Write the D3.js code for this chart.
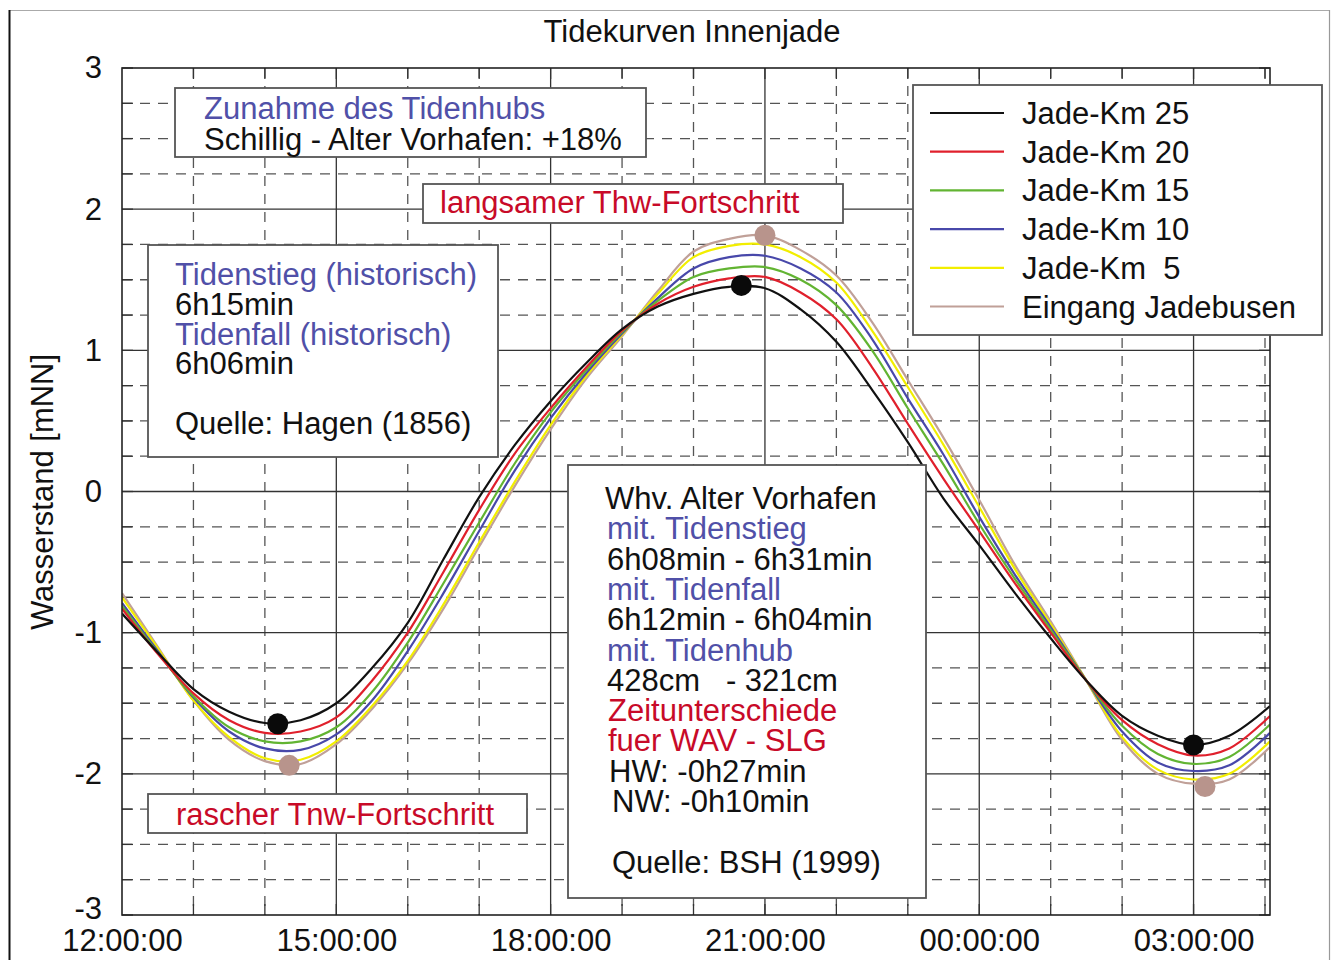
<!DOCTYPE html>
<html>
<head>
<meta charset="utf-8">
<script src="https://cdn.jsdelivr.net/npm/d3@7"></script>
<style>
  html, body { margin: 0; padding: 0; background: #fff; }
  svg { display: block; }
  text { font-family: "Liberation Sans", Arial, Helvetica, sans-serif; white-space: pre; }
</style>
</head>
<body>
<svg id="chart" width="1335" height="960"></svg>
<script>
// ---------- data ----------
const title = "Tidekurven Innenjade";
const yLabel = "Wasserstand [mNN]";
// time in hours (24+ = after midnight)
const times = [12,12.5,13,13.5,14,14.5,15,15.5,16,16.5,17,17.5,18,18.5,19,19.5,20,20.5,21,21.5,22,22.5,23,23.5,24,24.5,25,25.5,26,26.5,27,27.5,28.07];
const seriesNames = ["Jade-Km 25","Jade-Km 20","Jade-Km 15","Jade-Km 10","Jade-Km  5","Eingang Jadebusen"];
const seriesColors = ["#111111","#e0202c","#62b432","#4848aa","#f2ee00","#c0a098"];
const km25 = [-0.865,-1.14,-1.40,-1.56,-1.64,-1.62,-1.50,-1.25,-0.93,-0.48,-0.04,0.33,0.64,0.91,1.15,1.31,1.40,1.45,1.44,1.29,1.06,0.72,0.35,-0.05,-0.38,-0.72,-1.04,-1.34,-1.59,-1.73,-1.795,-1.73,-1.52];
const km20 = [-0.83,-1.15,-1.43,-1.62,-1.71,-1.70,-1.60,-1.34,-1.00,-0.57,-0.13,0.27,0.59,0.88,1.14,1.33,1.45,1.51,1.52,1.41,1.22,0.88,0.48,0.09,-0.28,-0.65,-1.00,-1.34,-1.62,-1.79,-1.87,-1.82,-1.59];
const km15 = [-0.81,-1.14,-1.45,-1.67,-1.77,-1.77,-1.67,-1.42,-1.07,-0.65,-0.22,0.20,0.56,0.86,1.13,1.35,1.52,1.58,1.59,1.50,1.32,1.00,0.59,0.19,-0.23,-0.62,-0.98,-1.34,-1.66,-1.86,-1.93,-1.88,-1.65];
const km10 = [-0.79,-1.13,-1.46,-1.70,-1.82,-1.83,-1.72,-1.48,-1.13,-0.72,-0.28,0.15,0.52,0.84,1.12,1.37,1.58,1.66,1.67,1.58,1.41,1.08,0.66,0.26,-0.18,-0.59,-0.96,-1.34,-1.70,-1.92,-1.98,-1.94,-1.71];
const km5  = [-0.75,-1.11,-1.48,-1.74,-1.89,-1.90,-1.77,-1.52,-1.20,-0.80,-0.36,0.07,0.47,0.82,1.11,1.40,1.66,1.74,1.75,1.66,1.48,1.14,0.74,0.33,-0.11,-0.55,-0.94,-1.34,-1.74,-1.97,-2.04,-2.00,-1.77];
const jadebusen = [-0.72,-1.10,-1.48,-1.76,-1.91,-1.93,-1.79,-1.54,-1.22,-0.83,-0.39,0.04,0.44,0.80,1.10,1.42,1.70,1.79,1.815,1.71,1.53,1.20,0.79,0.38,-0.06,-0.52,-0.92,-1.34,-1.76,-2.00,-2.07,-2.04,-1.81];
const seriesValues = [km25, km20, km15, km10, km5, jadebusen];
// extreme markers (Thw / Tnw)
const markerTimesKm25 = [14.18, 20.67, 27.0];
const markerValuesKm25 = [-1.645, 1.46, -1.795];
const markerTimesJadebusen = [14.34, 21.0, 27.16];
const markerValuesJadebusen = [-1.94, 1.815, -2.09];
// axes
const xTickValues = [12, 15, 18, 21, 24, 27];
const xTickLabels = ["12:00:00","15:00:00","18:00:00","21:00:00","00:00:00","03:00:00"];
const yTickValues = [-3,-2,-1,0,1,2,3];
// annotation texts
const boxHub = [["Zunahme des Tidenhubs","blue"],["Schillig - Alter Vorhafen: +18%","black"]];
const boxThw = [["langsamer Thw-Fortschritt","red"]];
const boxHist = [["Tidenstieg (historisch)","blue"],["6h15min","black"],["Tidenfall (historisch)","blue"],["6h06min","black"],["",""],["Quelle: Hagen (1856)","black"]];
const boxTnw = [["rascher Tnw-Fortschritt","red"]];
const boxWhv = [["Whv. Alter Vorhafen","black",0],["mit. Tidenstieg","blue",2],["6h08min - 6h31min","black",2],["mit. Tidenfall","blue",2],["6h12min - 6h04min","black",2],["mit. Tidenhub","blue",2],["428cm   - 321cm","black",2],["Zeitunterschiede","red",3],["fuer WAV - SLG","red",3],["HW: -0h27min","black",4],["NW: -0h10min","black",7],["",""],["Quelle: BSH (1999)","black",7]];

// ---------- drawing ----------
const textColor = {black:"#111111", blue:"#5050a8", red:"#c80a28"};
const FS = 31;
const svg = d3.select("#chart");
const L = 122, R = 1270, T = 68, B = 915;
const x = d3.scaleLinear().domain([12, 28.07]).range([L, R]);
const y = d3.scaleLinear().domain([-3, 3]).range([B, T]);

// outer page frame
svg.append("line").attr("x1",9).attr("x2",1330).attr("y1",10.5).attr("y2",10.5).attr("stroke","#aaa").attr("stroke-width",1.2);
svg.append("line").attr("x1",1329.5).attr("x2",1329.5).attr("y1",10).attr("y2",960).attr("stroke","#999").attr("stroke-width",1.2);
svg.append("line").attr("x1",9.5).attr("x2",9.5).attr("y1",10).attr("y2",960).attr("stroke","#111").attr("stroke-width",2);

// grid
const g = svg.append("g");
const minorX = d3.range(12, 28.01, 1).filter(h => !xTickValues.includes(h) && h !== 12);
const minorY = d3.range(-3, 3.001, 0.25).filter(v => Math.abs(v - Math.round(v)) > 1e-6);
g.selectAll(".mx").data(minorX).join("line")
  .attr("x1", d => x(d)).attr("x2", d => x(d)).attr("y1", T).attr("y2", B)
  .attr("stroke", "#555").attr("stroke-width", 1.3).attr("stroke-dasharray", "10,8");
g.selectAll(".my").data(minorY).join("line")
  .attr("x1", L).attr("x2", R).attr("y1", d => y(d)).attr("y2", d => y(d))
  .attr("stroke", "#555").attr("stroke-width", 1.3).attr("stroke-dasharray", "10,8");
g.selectAll(".Mx").data(xTickValues.slice(1)).join("line")
  .attr("x1", d => x(d)).attr("x2", d => x(d)).attr("y1", T).attr("y2", B)
  .attr("stroke", "#333").attr("stroke-width", 1.3);
g.selectAll(".My").data(yTickValues.slice(1, -1)).join("line")
  .attr("x1", L).attr("x2", R).attr("y1", d => y(d)).attr("y2", d => y(d))
  .attr("stroke", "#333").attr("stroke-width", 1.3);
// inner ticks on frame
const tk = 11;
[T, B].forEach(edge => {
  g.selectAll(null).data(minorX.concat(xTickValues.slice(1))).join("line")
    .attr("x1", d => x(d)).attr("x2", d => x(d))
    .attr("y1", edge).attr("y2", edge === T ? T + tk : B - tk)
    .attr("stroke", "#333").attr("stroke-width", 1.3);
});
[L, R].forEach(edge => {
  g.selectAll(null).data(minorY.concat(yTickValues)).join("line")
    .attr("y1", d => y(d)).attr("y2", d => y(d))
    .attr("x1", edge).attr("x2", edge === L ? L + tk : R - tk)
    .attr("stroke", "#333").attr("stroke-width", 1.3);
});

// axes labels through d3 axes
const xAxis = d3.axisBottom(x).tickValues(xTickValues).tickFormat((d, i) => xTickLabels[i]).tickSize(0).tickPadding(14);
const xa = svg.append("g").attr("transform", `translate(0,${B})`).call(xAxis);
xa.select(".domain").remove();
xa.selectAll("text").attr("font-size", FS).attr("fill", "#111").attr("font-family", "Liberation Sans, Arial, sans-serif");
const yAxis = d3.axisLeft(y).tickValues(yTickValues).tickFormat(d3.format("d")).tickSize(0).tickPadding(20);
const ya = svg.append("g").attr("transform", `translate(${L},0)`).call(yAxis);
ya.select(".domain").remove();
ya.selectAll("text").attr("font-size", FS).attr("fill", "#111").attr("font-family", "Liberation Sans, Arial, sans-serif")
  .text(d => d < 0 ? "-" + Math.abs(d) : d)
  .attr("dy", d => d === -3 ? "0.1em" : "0.32em");

// curves
svg.append("clipPath").attr("id", "clip").append("rect").attr("x", L).attr("y", T).attr("width", R - L).attr("height", B - T);
const line = d3.line().x(d => x(d[0])).y(d => y(d[1])).curve(d3.curveCatmullRom.alpha(0.5));
const curves = svg.append("g").attr("clip-path", "url(#clip)");
seriesValues.slice().reverse().forEach((vals, ri) => {
  const i = seriesValues.length - 1 - ri;
  curves.append("path")
    .attr("d", line(times.map((t, k) => [t, vals[k]])))
    .attr("fill", "none").attr("stroke", seriesColors[i]).attr("stroke-width", 2.2);
});

// frame
svg.append("rect").attr("x", L).attr("y", T).attr("width", R - L).attr("height", B - T)
  .attr("fill", "none").attr("stroke", "#222").attr("stroke-width", 1.6);

// markers
svg.selectAll(".mj").data(markerTimesJadebusen).join("circle")
  .attr("cx", d => x(d)).attr("cy", (d, i) => y(markerValuesJadebusen[i])).attr("r", 10.5).attr("fill", "#b8948c");
svg.selectAll(".mk").data(markerTimesKm25).join("circle")
  .attr("cx", d => x(d)).attr("cy", (d, i) => y(markerValuesKm25[i])).attr("r", 10.5).attr("fill", "#0a0a0a");

// text boxes
function box(x0, y0, x1, y1, lines, tx, by, lh) {
  svg.append("rect").attr("x", x0).attr("y", y0).attr("width", x1 - x0).attr("height", y1 - y0)
    .attr("fill", "#fff").attr("stroke", "#555").attr("stroke-width", 1.8);
  lines.forEach((l, i) => {
    if (!l[0]) return;
    svg.append("text").attr("x", tx + (l[2] || 0)).attr("y", by + i * lh)
      .attr("font-size", FS).attr("fill", textColor[l[1]]).text(l[0]);
  });
}
box(175, 88, 646, 157, boxHub, 204, 119, 31);
box(423, 184, 843, 223, boxThw, 440, 213, 31);
box(148, 245, 498, 457, boxHist, 175, 285, 29.8);
box(148, 794, 527, 833, boxTnw, 176, 825, 31);
box(568, 465, 926, 898, boxWhv, 605, 509, 30.3);

// legend
const lg = svg.append("g");
lg.append("rect").attr("x", 913).attr("y", 85).attr("width", 409).attr("height", 250)
  .attr("fill", "#fff").attr("stroke", "#555").attr("stroke-width", 1.8);
seriesNames.forEach((n, i) => {
  const ly = 113 + i * 38.7;
  lg.append("line").attr("x1", 930).attr("x2", 1004).attr("y1", ly).attr("y2", ly)
    .attr("stroke", seriesColors[i]).attr("stroke-width", 2.2);
  lg.append("text").attr("x", 1022).attr("y", ly + 11).attr("font-size", FS).attr("fill", "#111").text(n);
});

// title and y label
svg.append("text").attr("x", 692).attr("y", 42).attr("text-anchor", "middle").attr("font-size", FS).attr("fill", "#111").text(title);
svg.append("text").attr("transform", "translate(53,492) rotate(-90)").attr("text-anchor", "middle")
  .attr("font-size", FS).attr("fill", "#111").text(yLabel);
</script>
</body>
</html>
